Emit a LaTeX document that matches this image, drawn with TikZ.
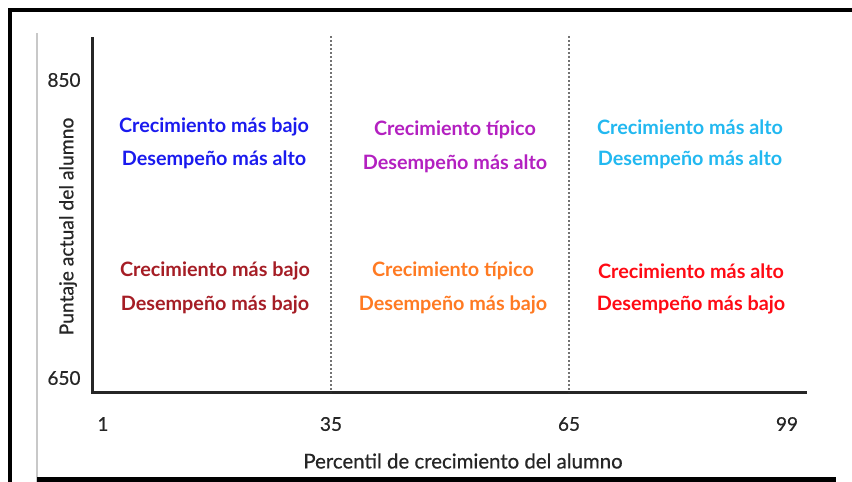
\documentclass[tikz,border=0pt]{standalone}
\usepackage{fontspec}
\setmainfont{Lato}
\newfontfamily\latomid[FakeBold=0.6]{Lato}
\definecolor{cblue}{HTML}{1A1AEE}
\definecolor{cpurple}{HTML}{B320C0}
\definecolor{ccyan}{HTML}{22B8F0}
\definecolor{cdred}{HTML}{A51D25}
\definecolor{corange}{HTML}{FF7A22}
\definecolor{cred}{HTML}{FF0A14}
\definecolor{frameg}{HTML}{C8C8C8}
\tikzset{
  lbl/.style={font=\fontsize{19.8}{22}\selectfont\bfseries, anchor=center, inner sep=0pt},
  tick/.style={font=\latomid\fontsize{19}{22}\selectfont, text=black!85, anchor=center, inner sep=0pt},
  axis/.style={line width=3pt, black!85},
  divider/.style={line width=2pt, black!55, dash pattern=on 2pt off 2pt},
  outer/.style={line width=3.5pt, black},
}
\begin{document}
\begin{tikzpicture}[x=1pt,y=-1pt]
\useasboundingbox (0,0) rectangle (852,482);
% outer frame
\coordinate (ftl) at (10,10);
\coordinate (ftr) at (852,10);
\coordinate (fbl) at (10,482);
\draw[outer] (ftr) -- (ftl) -- (fbl);
\coordinate (gt) at (37,33);
\coordinate (gb) at (37,482);
\draw[line width=2pt, frameg] (gt) -- (gb);
\coordinate (bl) at (37,479);
\coordinate (br) at (836,479);
\draw[line width=5pt, black] (bl) -- (br);
% axes
\coordinate (ytop) at (92,37);
\coordinate (orig) at (92,392);
\coordinate (xend) at (807,392);
\draw[axis] (ytop) -- (orig) -- (xend);
% dividers
\coordinate (d1t) at (331,36);
\coordinate (d1b) at (331,392);
\coordinate (d2t) at (569,36);
\coordinate (d2b) at (569,392);
\draw[divider] (d1t) -- (d1b);
\draw[divider] (d2t) -- (d2b);
% ticks
\node[tick] (y850) at (64,80) {850};
\node[tick] (y650) at (64,378) {650};
\node[tick] (x1) at (103,424) {1};
\node[tick] (x35) at (331,424) {35};
\node[tick] (x65) at (569,424) {65};
\node[tick] (x99) at (787,424) {99};
\node[tick, font=\latomid\fontsize{20.4}{22}\selectfont] (xt) at (463,461) {Percentil de crecimiento del alumno};
\node[tick, rotate=90, font=\latomid\fontsize{19.3}{22}\selectfont] (yt) at (68,226.5) {Puntaje actual del alumno};
% labels
\node[lbl, text=cblue] (a1) at (214,127) {Crecimiento más bajo};
\node[lbl, text=cblue] (a2) at (214,160) {Desempeño más alto};
\node[lbl, text=cpurple] (b1) at (455,130) {Crecimiento típico};
\node[lbl, text=cpurple] (b2) at (455,164) {Desempeño más alto};
\node[lbl, text=ccyan] (c1) at (690,127) {Crecimiento más alto};
\node[lbl, text=ccyan] (c2) at (690,160) {Desempeño más alto};
\node[lbl, text=cdred] (d1) at (215,271) {Crecimiento más bajo};
\node[lbl, text=cdred] (d2) at (215,305) {Desempeño más bajo};
\node[lbl, text=corange] (e1) at (453,271) {Crecimiento típico};
\node[lbl, text=corange] (e2) at (453,305) {Desempeño más bajo};
\node[lbl, text=cred] (f1) at (691,271) {Crecimiento más alto};
\node[lbl, text=cred] (f2) at (691,305) {Desempeño más bajo};
\end{tikzpicture}
\end{document}
